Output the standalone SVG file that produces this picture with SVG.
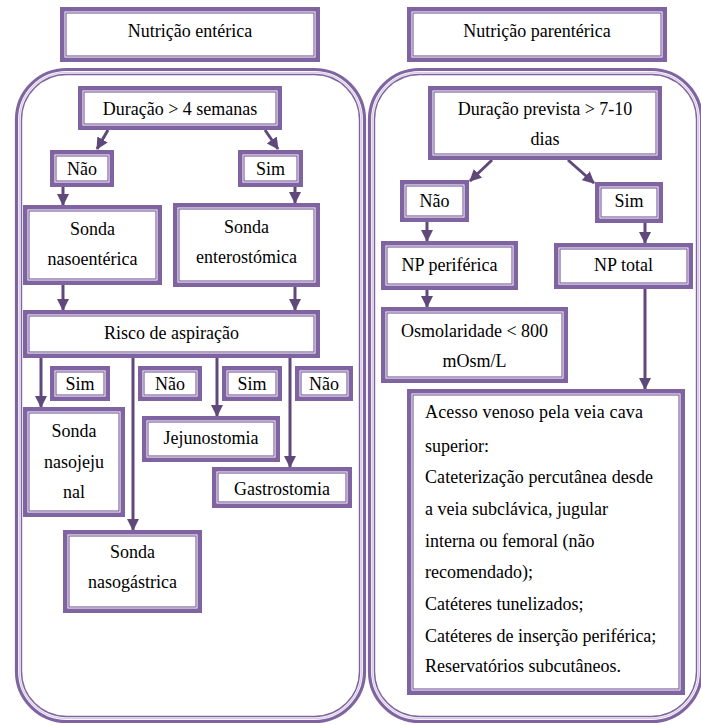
<svg xmlns="http://www.w3.org/2000/svg" width="701" height="725" viewBox="0 0 701 725">
<style>
.o{fill:#fff;stroke:#8064A2;stroke-width:4.5}
.i{fill:none;stroke:#8064A2;stroke-width:1.2}
.p{fill:none;stroke:#8064A2;stroke-width:3.2}
.pi{fill:none;stroke:#8064A2;stroke-width:1.4}
.pm{fill:none;stroke:#d9d0e6;stroke-width:1.4}
.e{fill:none;stroke:#5F497A;stroke-width:3;marker-end:url(#ah)}
</style>
<defs>
<marker id="ah" markerUnits="userSpaceOnUse" markerWidth="12" markerHeight="12" refX="11" refY="6" orient="auto" viewBox="0 0 12 12">
<path d="M0,0 L12,6 L0,12 z" fill="#5F497A"/>
</marker>
</defs>
<rect width="701" height="725" fill="#fff"/>
<g id="panels">
<rect class="p" x="16.5" y="69.5" width="348" height="652" rx="50"/>
<rect class="pm" x="19.5" y="72.5" width="342" height="646" rx="47"/>
<rect class="pi" x="21.5" y="74.5" width="338" height="642" rx="45"/>
<rect class="p" x="369.5" y="69.5" width="332" height="652" rx="50"/>
<rect class="pm" x="372.5" y="72.5" width="326" height="646" rx="47"/>
<rect class="pi" x="374.5" y="74.5" width="322" height="642" rx="45"/>
</g>
<g id="connectors">
<line class="e" x1="108" y1="130" x2="97" y2="149"/>
<line class="e" x1="265" y1="130" x2="278" y2="149"/>
<line class="e" x1="63" y1="187" x2="63" y2="205"/>
<line class="e" x1="295" y1="187" x2="295" y2="203"/>
<line class="e" x1="63" y1="285" x2="63" y2="310"/>
<line class="e" x1="295" y1="287" x2="295" y2="310"/>
<line class="e" x1="41" y1="356" x2="41" y2="407"/>
<line class="e" x1="133" y1="356" x2="133" y2="530"/>
<line class="e" x1="217" y1="356" x2="217" y2="416"/>
<line class="e" x1="290" y1="356" x2="290" y2="467"/>
<line class="e" x1="492" y1="160" x2="470" y2="181"/>
<line class="e" x1="568" y1="160" x2="594" y2="183"/>
<line class="e" x1="427" y1="222" x2="427" y2="241"/>
<line class="e" x1="645" y1="223" x2="645" y2="243"/>
<line class="e" x1="427" y1="290" x2="427" y2="307"/>
<line class="e" x1="645" y1="289" x2="645" y2="389"/>
</g>
<g id="nodes" font-family="'Liberation Serif', serif" font-size="18" fill="#000">
<g id="t_ent" text-anchor="middle"><rect class="o" x="62.25" y="9.25" width="255.5" height="50.5"/><rect class="i" x="66" y="13" width="248" height="43"/><text x="190" y="37">Nutrição entérica</text></g>
<g id="dur4" text-anchor="middle"><rect class="o" x="80.25" y="88.25" width="199.5" height="39.5"/><rect class="i" x="84" y="92" width="192" height="32"/><text x="180" y="115">Duração &gt; 4 semanas</text></g>
<g id="nao1" text-anchor="middle"><rect class="o" x="52.25" y="152.25" width="59.5" height="32.5"/><rect class="i" x="56" y="156" width="52" height="25"/><text x="82" y="175">Não</text></g>
<g id="sim1" text-anchor="middle"><rect class="o" x="240.25" y="152.25" width="60.5" height="32.5"/><rect class="i" x="244" y="156" width="53" height="25"/><text x="270.5" y="175">Sim</text></g>
<g id="snasoent" text-anchor="middle"><rect class="o" x="25.25" y="207.25" width="134.5" height="75.5"/><rect class="i" x="29" y="211" width="127" height="68"/><text x="92.5" y="235">Sonda</text><text x="92.5" y="265">nasoentérica</text></g>
<g id="senteros" text-anchor="middle"><rect class="o" x="175.25" y="205.25" width="142.5" height="79.5"/><rect class="i" x="179" y="209" width="135" height="72"/><text x="246.5" y="233">Sonda</text><text x="246.5" y="263">enterostómica</text></g>
<g id="risco" text-anchor="middle"><rect class="o" x="25.25" y="312.25" width="292.5" height="43.5"/><rect class="i" x="29" y="316" width="285" height="36"/><text x="171.5" y="339">Risco de aspiração</text></g>
<g id="sim2" text-anchor="middle"><rect class="o" x="52.25" y="368.25" width="55.5" height="30.5"/><rect class="i" x="56" y="372" width="48" height="23"/><text x="80" y="390">Sim</text></g>
<g id="nao2" text-anchor="middle"><rect class="o" x="140.25" y="368.25" width="59.5" height="30.5"/><rect class="i" x="144" y="372" width="52" height="23"/><text x="170" y="390">Não</text></g>
<g id="sim3" text-anchor="middle"><rect class="o" x="224.25" y="368.25" width="55.5" height="30.5"/><rect class="i" x="228" y="372" width="48" height="23"/><text x="252" y="390">Sim</text></g>
<g id="nao3" text-anchor="middle"><rect class="o" x="297.25" y="368.25" width="53.5" height="30.5"/><rect class="i" x="301" y="372" width="46" height="23"/><text x="324" y="390">Não</text></g>
<g id="snasojej" text-anchor="middle"><rect class="o" x="25.25" y="409.25" width="97.5" height="105.5"/><rect class="i" x="29" y="413" width="90" height="98"/><text x="74" y="437">Sonda</text><text x="74" y="468">nasojeju</text><text x="74" y="498">nal</text></g>
<g id="jejuno" text-anchor="middle"><rect class="o" x="144.25" y="418.25" width="133.5" height="41.5"/><rect class="i" x="148" y="422" width="126" height="34"/><text x="211" y="444">Jejunostomia</text></g>
<g id="gastro" text-anchor="middle"><rect class="o" x="214.25" y="469.25" width="135.5" height="36.5"/><rect class="i" x="218" y="473" width="128" height="29"/><text x="282" y="495">Gastrostomia</text></g>
<g id="snasogas" text-anchor="middle"><rect class="o" x="65.25" y="532.25" width="134.5" height="78.5"/><rect class="i" x="69" y="536" width="127" height="71"/><text x="132.5" y="558">Sonda</text><text x="132.5" y="588">nasogástrica</text></g>
<g id="t_par" text-anchor="middle"><rect class="o" x="409.25" y="9.25" width="255.5" height="50.5"/><rect class="i" x="413" y="13" width="248" height="43"/><text x="537" y="37">Nutrição parentérica</text></g>
<g id="dur710" text-anchor="middle"><rect class="o" x="430.25" y="88.25" width="229.5" height="69.5"/><rect class="i" x="434" y="92" width="222" height="62"/><text x="545" y="115">Duração prevista &gt; 7-10</text><text x="545" y="145">dias</text></g>
<g id="nao4" text-anchor="middle"><rect class="o" x="402.25" y="182.25" width="64.5" height="37.5"/><rect class="i" x="406" y="186" width="57" height="30"/><text x="434.5" y="207">Não</text></g>
<g id="sim4" text-anchor="middle"><rect class="o" x="597.25" y="184.25" width="63.5" height="36.5"/><rect class="i" x="601" y="188" width="56" height="29"/><text x="629" y="207">Sim</text></g>
<g id="nppf" text-anchor="middle"><rect class="o" x="383.25" y="243.25" width="132.5" height="44.5"/><rect class="i" x="387" y="247" width="125" height="37"/><text x="449.5" y="271">NP periférica</text></g>
<g id="nptot" text-anchor="middle"><rect class="o" x="556.25" y="245.25" width="134.5" height="41.5"/><rect class="i" x="560" y="249" width="127" height="34"/><text x="623.5" y="271">NP total</text></g>
<g id="osmo" text-anchor="middle"><rect class="o" x="383.25" y="309.25" width="182.5" height="71.5"/><rect class="i" x="387" y="313" width="175" height="64"/><text x="474.5" y="337">Osmolaridade &lt; 800</text><text x="474.5" y="367">mOsm/L</text></g>
<g id="acesso"><rect class="o" x="409.25" y="391.25" width="273.5" height="301.5"/><rect class="i" x="413" y="395" width="266" height="294"/>
<text x="425" y="418" textLength="218" lengthAdjust="spacing">Acesso venoso pela veia cava</text>
<text x="425" y="452">superior:</text>
<text x="425" y="483" textLength="228" lengthAdjust="spacing">Cateterização percutânea desde</text>
<text x="425" y="515">a veia subclávica, jugular</text>
<text x="425" y="547">interna ou femoral (não</text>
<text x="425" y="578">recomendado);</text>
<text x="425" y="610">Catéteres tunelizados;</text>
<text x="425" y="642">Catéteres de inserção periférica;</text>
<text x="425" y="672">Reservatórios subcutâneos.</text>
</g>
</g>
</svg>
